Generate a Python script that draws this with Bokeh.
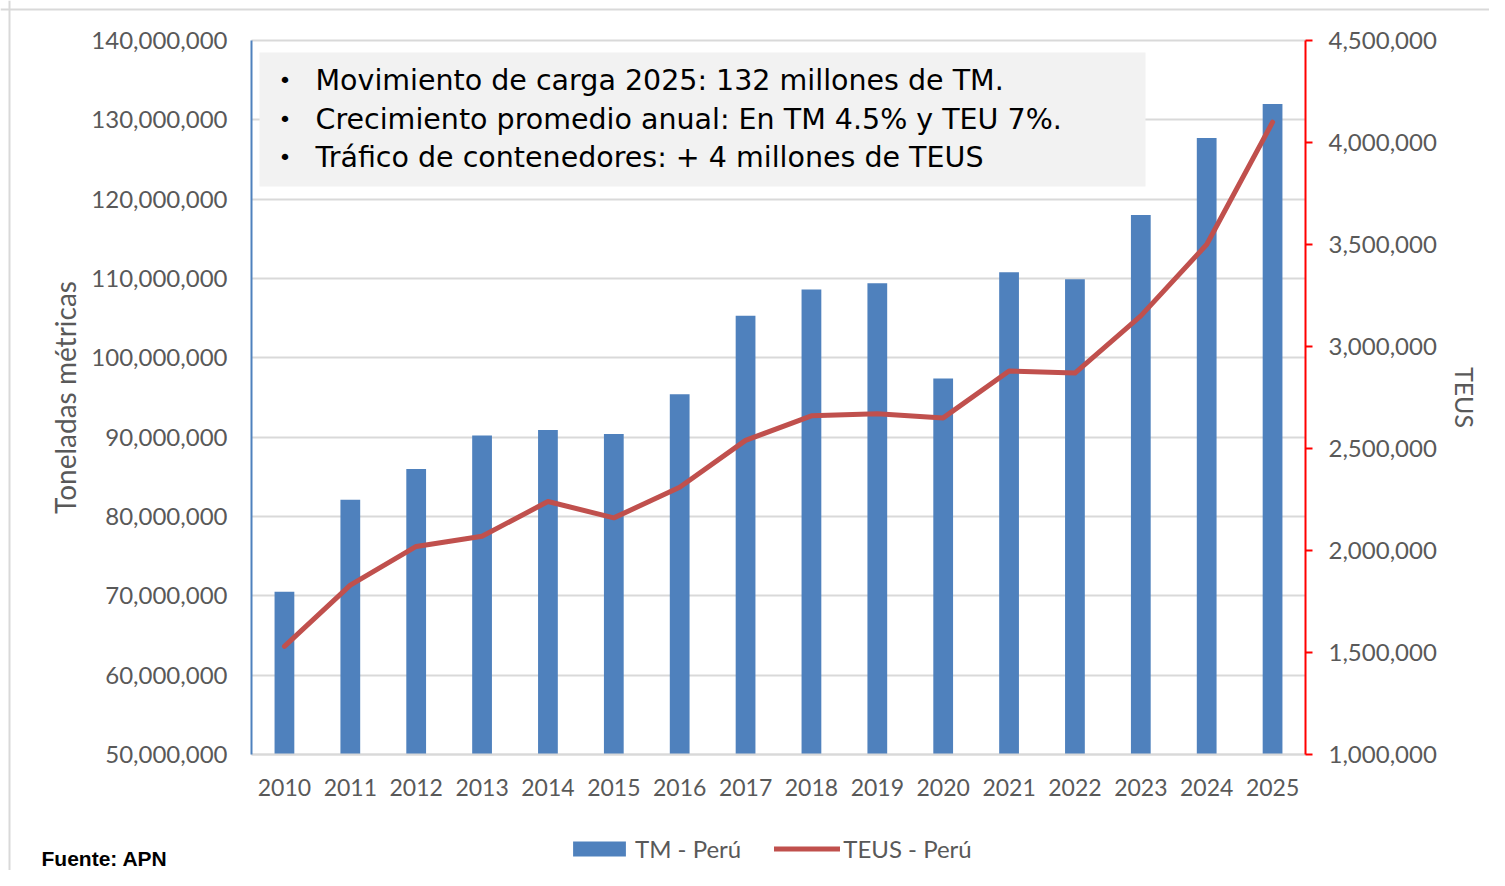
from bokeh.plotting import figure
from bokeh.models import (Range1d, LinearAxis, FixedTicker, NumeralTickFormatter,
                          Legend, LegendItem, Label, BoxAnnotation, Span, Grid)
from bokeh.embed import file_html
from bokeh.resources import INLINE

years = list(range(2010, 2026))
tm_peru = [70.5e6, 82.1e6, 86.0e6, 90.2e6, 90.9e6, 90.4e6, 95.4e6, 105.3e6,
           108.6e6, 109.4e6, 97.4e6, 110.8e6, 109.9e6, 118.0e6, 127.7e6, 132.0e6]
teus_peru = [1.53e6, 1.83e6, 2.02e6, 2.07e6, 2.24e6, 2.16e6, 2.31e6, 2.54e6,
             2.66e6, 2.67e6, 2.65e6, 2.88e6, 2.87e6, 3.15e6, 3.50e6, 4.10e6]
left_ticks = [50e6, 60e6, 70e6, 80e6, 90e6, 100e6, 110e6, 120e6, 130e6, 140e6]
right_ticks = [1.0e6, 1.5e6, 2.0e6, 2.5e6, 3.0e6, 3.5e6, 4.0e6, 4.5e6]
notes = ["Movimiento de carga 2025: 132 millones de TM.",
         "Crecimiento promedio anual: En TM 4.5% y TEU 7%.",
         "Tráfico de contenedores: + 4 millones de TEUS"]
source_note = "Fuente: APN"

BLUE = "#4F81BD"
RED = "#C0504D"
GRAY_TXT = "#595959"
GRID = "#D9D9D9"
FONT = "Lato"

W, H = 1489, 870
# plot area in pixels (left, right, top, bottom)
FL, FR, FT, FB = 251, 1305, 40, 754
x0, x1 = years[0] - 0.5, years[-1] + 0.5
l0, l1 = left_ticks[0], left_ticks[-1]
r0, r1 = right_ticks[0], right_ticks[-1]
xs = (x1 - x0) / (FR - FL)          # years per px
ls = (l1 - l0) / (FB - FT)          # tonnes per px
rs = (r1 - r0) / (FB - FT)          # teus per px
xr = Range1d(x0 - FL * xs, x1 + (W - FR) * xs)
yl = Range1d(l0 - (H - FB) * ls, l1 + FT * ls)
yr = Range1d(r0 - (H - FB) * rs, r1 + FT * rs)

def px_x(px):
    return xr.start + px * xs

def px_y(py):
    return yl.end - py * ls

p = figure(x_range=xr, y_range=yl, width=W, height=H,
           output_backend="svg", toolbar_location=None, min_border=0)
p.extra_y_ranges = {"teus": yr}
p.outline_line_color = None
p.xaxis.visible = False
p.yaxis.visible = False
p.xgrid.visible = False
p.ygrid.visible = False

# outer border lines of the chart image
p.add_layout(Span(location=px_x(9), dimension="height", line_color=GRID, line_width=2))
p.add_layout(Span(location=px_y(9), dimension="width", line_color=GRID, line_width=2))

# gridlines
grid = Grid(dimension=1, ticker=FixedTicker(ticks=left_ticks), grid_line_color=GRID,
            grid_line_width=2)
try:
    grid.cross_bounds = (x0, x1)
except Exception:
    pass
p.add_layout(grid)

bars = p.vbar(x=years, top=tm_peru, bottom=l0, width=0.3, fill_color=BLUE,
              line_color=None)
line = p.line(x=years, y=teus_peru, y_range_name="teus", line_width=5,
              line_color=RED, line_cap="round", line_join="round")

# left axis
ya = LinearAxis(ticker=FixedTicker(ticks=left_ticks),
                formatter=NumeralTickFormatter(format="0,0"),
                fixed_location=x0, bounds=(l0, l1))
ya.axis_label = "Toneladas métricas"
ya.axis_label_text_font = FONT
ya.axis_label_text_font_size = "28px"
ya.axis_label_text_font_style = "normal"
ya.axis_label_text_color = GRAY_TXT
ya.axis_label_standoff = 6
ya.major_label_text_font = FONT
ya.major_label_text_font_size = "24px"
ya.major_label_text_color = GRAY_TXT
ya.major_label_standoff = 18
ya.major_tick_line_color = None
ya.minor_tick_line_color = None
ya.axis_line_color = BLUE
ya.axis_line_width = 2
p.add_layout(ya, "left")

# right axis
ra = LinearAxis(y_range_name="teus", ticker=FixedTicker(ticks=right_ticks),
                formatter=NumeralTickFormatter(format="0,0"),
                fixed_location=x1, bounds=(r0, r1))
ra.axis_label = "TEUS"
ra.axis_label_text_font = FONT
ra.axis_label_text_font_size = "25px"
ra.axis_label_text_font_style = "normal"
ra.axis_label_text_color = GRAY_TXT
ra.axis_label_standoff = 10
ra.major_label_text_font = FONT
ra.major_label_text_font_size = "24px"
ra.major_label_text_color = GRAY_TXT
ra.major_label_standoff = 16
ra.axis_line_color = "#FF0000"
ra.axis_line_width = 2
ra.major_tick_line_color = "#FF0000"
ra.major_tick_line_width = 2
ra.major_tick_out = 7
ra.major_tick_in = 0
ra.minor_tick_line_color = None
p.add_layout(ra, "right")

# x axis
xa = LinearAxis(ticker=FixedTicker(ticks=years), fixed_location=l0, bounds=(x0, x1))
xa.major_label_overrides = {y: str(y) for y in years}
xa.major_label_text_font = FONT
xa.major_label_text_font_size = "23px"
xa.major_label_text_color = GRAY_TXT
xa.major_label_standoff = 18
xa.major_tick_line_color = None
xa.minor_tick_line_color = None
xa.axis_line_color = GRID
xa.axis_line_width = 2
p.add_layout(xa, "below")

# note box
p.add_layout(BoxAnnotation(left=px_x(259), right=px_x(1145), top=px_y(52),
                           bottom=px_y(186), fill_color="#F2F2F2", fill_alpha=1.0,
                           line_color=None, level="annotation"))
for txt, py in zip(notes, [80, 119, 157]):
    p.add_layout(Label(x=px_x(278), y=px_y(py), text="•", text_font="DejaVu Sans",
                       text_font_size="22px", text_baseline="middle",
                       text_color="black"))
    p.add_layout(Label(x=px_x(315), y=px_y(py), text=txt, text_font="DejaVu Sans",
                       text_font_size="28.5px", text_baseline="middle",
                       text_color="black"))

p.add_layout(Label(x=px_x(41), y=px_y(858), text=source_note,
                   text_font="Liberation Sans", text_font_size="21px",
                   text_font_style="bold", text_baseline="middle",
                   text_color="black"))

legend = Legend(items=[LegendItem(label="TM - Perú", renderers=[bars]),
                       LegendItem(label="TEUS - Perú", renderers=[line])],
                orientation="horizontal", location=(566, 7),
                glyph_width=66, glyph_height=19, label_standoff=3, spacing=33,
                label_text_font=FONT, label_text_font_size="24px",
                label_text_color=GRAY_TXT, border_line_color=None,
                background_fill_alpha=0, padding=0, margin=0)
p.add_layout(legend)

open("out.html", "w").write(file_html(p, INLINE))
